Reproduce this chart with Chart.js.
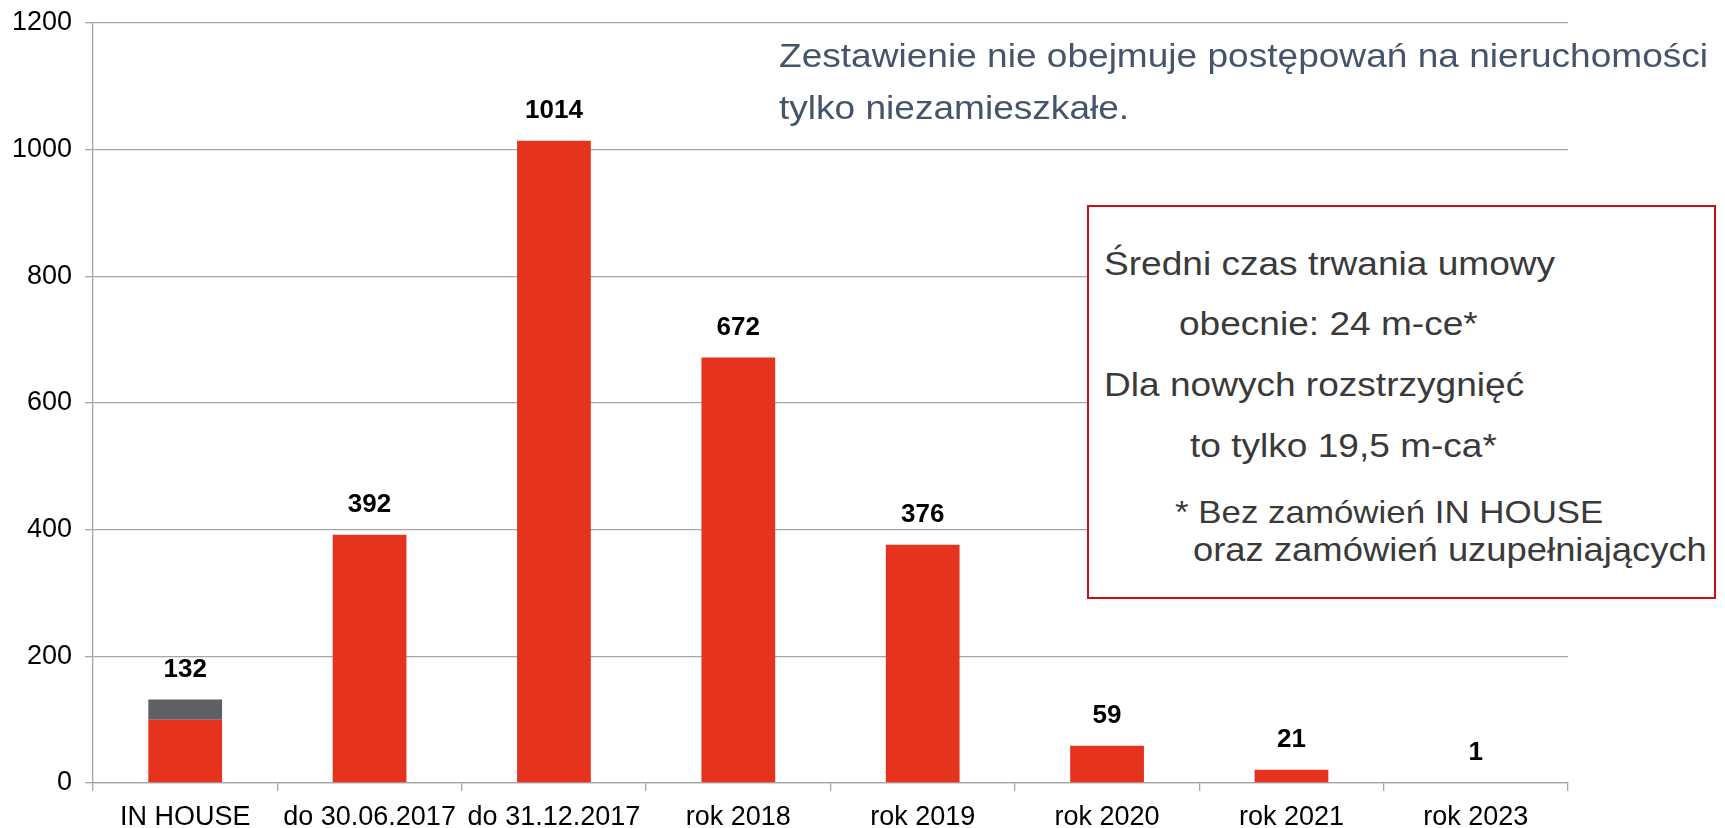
<!DOCTYPE html>
<html>
<head>
<meta charset="utf-8">
<script src="https://cdn.jsdelivr.net/npm/chart.js@4.4.1/dist/chart.umd.min.js"></script>
<style>
  body { margin: 0; background: #fff; }
  #wrap { position: relative; width: 1725px; height: 828px; }
  #wrap canvas { position: absolute; left: 0; top: 0; }
  .txt {
    position: absolute;
    font-family: "Liberation Sans", Arial, sans-serif;
    font-size: 34px;
    line-height: 34px;
    white-space: nowrap;
    transform: scaleX(1.09);
    transform-origin: 0 0;
  }
  .note { color: #44546A; }
  .boxtxt { color: #3A3A3A; }
  .small { font-size: 32px; line-height: 32px; }
  #box {
    position: absolute;
    left: 1087px; top: 205px; width: 629px; height: 394px;
    box-sizing: border-box;
    border: 2px solid #C8101A;
    background: #fff;
  }
</style>
</head>
<body>
<div id="wrap">
  <canvas id="chart" width="1725" height="828"></canvas>
  <div class="txt note" style="left:779px; top:38px;">Zestawienie nie obejmuje postępowań na nieruchomości</div>
  <div class="txt note" style="left:779px; top:90px;">tylko niezamieszkałe.</div>
  <div id="box"></div>
  <div class="txt boxtxt" style="left:1104px; top:246px;">Średni czas trwania umowy</div>
  <div class="txt boxtxt" style="left:1179px; top:306px;">obecnie: 24 m-ce*</div>
  <div class="txt boxtxt" style="left:1104px; top:367px;">Dla nowych rozstrzygnięć</div>
  <div class="txt boxtxt" style="left:1190px; top:428px;">to tylko 19,5 m-ca*</div>
  <div class="txt boxtxt small" style="left:1175px; top:496px;">* Bez zamówień IN HOUSE</div>
  <div class="txt boxtxt" style="left:1193px; top:533px; font-size:33.4px;">oraz zamówień uzupełniających</div>
</div>
<script>
  const categories = ['IN HOUSE', 'do 30.06.2017', 'do 31.12.2017', 'rok 2018', 'rok 2019', 'rok 2020', 'rok 2021', 'rok 2023'];
  const mainValues = [100, 392, 1014, 672, 376, 59, 21, 1];
  const inHouseExtra = [32, 0, 0, 0, 0, 0, 0, 0];
  const yTicks = [0, 200, 400, 600, 800, 1000, 1200];

  const FONT = '"Liberation Sans", Arial, sans-serif';

  // totals above each stacked bar
  const totalLabels = {
    id: 'totalLabels',
    afterDatasetsDraw(chart) {
      const ctx = chart.ctx;
      const y = chart.scales.y;
      const meta = chart.getDatasetMeta(0);
      ctx.save();
      ctx.font = 'bold 26px ' + FONT;
      ctx.fillStyle = '#000';
      ctx.textAlign = 'center';
      ctx.textBaseline = 'middle';
      categories.forEach((c, i) => {
        const total = mainValues[i] + inHouseExtra[i];
        ctx.fillText(String(total), meta.data[i].x, y.getPixelForValue(total) - 30);
      });
      ctx.restore();
    }
  };

  const ctx = document.getElementById('chart').getContext('2d');
  const chart = new Chart(ctx, {
    type: 'bar',
    data: {
      labels: categories,
      datasets: [
        {
          label: 'main',
          data: mainValues,
          backgroundColor: '#E5331D',
          barPercentage: 0.4,
          categoryPercentage: 1.0
        },
        {
          label: 'in house',
          data: inHouseExtra,
          backgroundColor: '#5F6065',
          barPercentage: 0.4,
          categoryPercentage: 1.0
        }
      ]
    },
    options: {
      responsive: false,
      animation: false,
      layout: { padding: { top: 23, right: 157, left: 0, bottom: 0 } },
      plugins: {
        legend: { display: false },
        tooltip: { enabled: false }
      },
      scales: {
        x: {
          stacked: true,
          grid: { offset: true, drawOnChartArea: false, drawTicks: true, tickLength: 8, color: '#A6A6A6', lineWidth: 1.3 },
          border: { color: '#A6A6A6', width: 1.3 },
          ticks: { color: '#000', font: { family: FONT, size: 27 }, padding: 10, maxRotation: 0, autoSkip: false },
          afterFit: s => { s.height = 45; s.paddingLeft = 0; s.paddingRight = 0; }
        },
        y: {
          stacked: true,
          min: 0,
          max: 1200,
          afterBuildTicks: s => { s.ticks = yTicks.map(v => ({ value: v })); },
          grid: { color: '#A6A6A6', lineWidth: 1.3, tickLength: 8 },
          border: { color: '#A6A6A6', width: 1.3 },
          ticks: { color: '#000', font: { family: FONT, size: 27 }, padding: 13, callback: v => String(v) },
          afterFit: s => { s.width = 93; s.paddingTop = 0; s.paddingBottom = 0; }
        }
      }
    },
    plugins: [totalLabels]
  });
</script>
</body>
</html>
